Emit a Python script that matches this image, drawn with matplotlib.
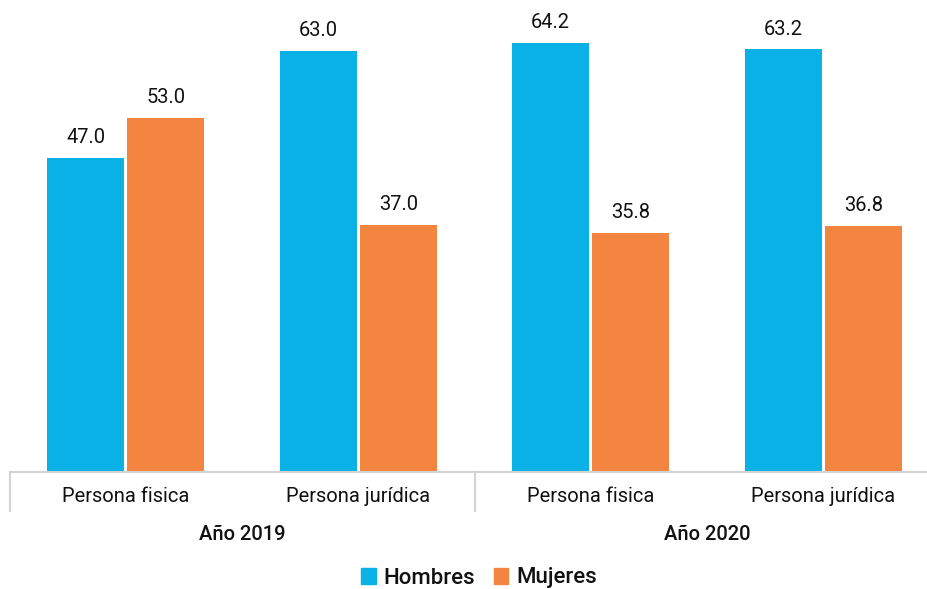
import numpy as np
import matplotlib
matplotlib.use("Agg")
import matplotlib.pyplot as plt
import matplotlib.transforms as mtransforms
from matplotlib.patches import Patch

plt.rcParams["font.family"] = ["Roboto", "DejaVu Sans"]

categories = ["Persona fisica", "Persona jurídica", "Persona fisica", "Persona jurídica"]
years = ["Año 2019", "Año 2020"]
hombres = [47.0, 63.0, 64.2, 63.2]
mujeres = [53.0, 37.0, 35.8, 36.8]

BLUE = "#0AB1E6"
ORANGE = "#F38540"
GRID = "#d3d3d3"

W, H = 928, 589
fig = plt.figure(figsize=(W / 100, H / 100), dpi=100)
ax = fig.add_axes([9.5 / W, 117 / H, 930 / W, 468 / H])

x = np.arange(len(categories))
bw = 0.33
off = 0.1725
b1 = ax.bar(x - off, hombres, bw, color=BLUE, label="Hombres")
b2 = ax.bar(x + off, mujeres, bw, color=ORANGE, label="Mujeres")

for bars, vals in [(b1, hombres), (b2, mujeres)]:
    for rect, v in zip(bars, vals):
        ax.annotate(f"{v:.1f}", (rect.get_x() + rect.get_width() / 2, v),
                    xytext=(0, 14.5), textcoords="offset points",
                    ha="center", va="center", fontsize=14.5, color="#111111")

ax.set_xlim(-0.5, 3.5)
ax.set_ylim(0, 70)
ax.set_xticks([])
ax.set_yticks([])
for s in ["top", "left", "right"]:
    ax.spines[s].set_visible(False)
ax.spines["bottom"].set_color(GRID)
ax.spines["bottom"].set_linewidth(1.5)

# group separators under the axis
trans = mtransforms.blended_transform_factory(ax.transData, fig.transFigure)
y0 = 117 / H
y1 = (589 - 511) / H
for sx in [-0.5, 1.5, 3.5]:
    ax.plot([sx, sx], [y0, y1], color=GRID, lw=1.5, transform=trans, clip_on=False)

# category labels
for xi, c in zip(x, categories):
    ax.text(xi, 1 - 496 / H, c, transform=trans, ha="center", va="center",
            fontsize=14.5, color="#111111")

# year labels
for i, yr in enumerate(years):
    ax.text(2 * i + 0.5, 1 - 535 / H, yr, transform=trans, ha="center", va="center",
            fontsize=14.5, fontweight="medium", color="#111111")

handles = [Patch(color=BLUE, label="Hombres"), Patch(color=ORANGE, label="Mujeres")]
fig.legend(handles=handles, loc="center", bbox_to_anchor=(479 / W, 1 - 578 / H),
           ncol=2, frameon=False, prop={"size": 16, "weight": "medium"},
           handlelength=0.65, handleheight=0.7, handletextpad=0.35,
           columnspacing=0.85, labelcolor="#111111")

fig.savefig("out.png", dpi=100)
